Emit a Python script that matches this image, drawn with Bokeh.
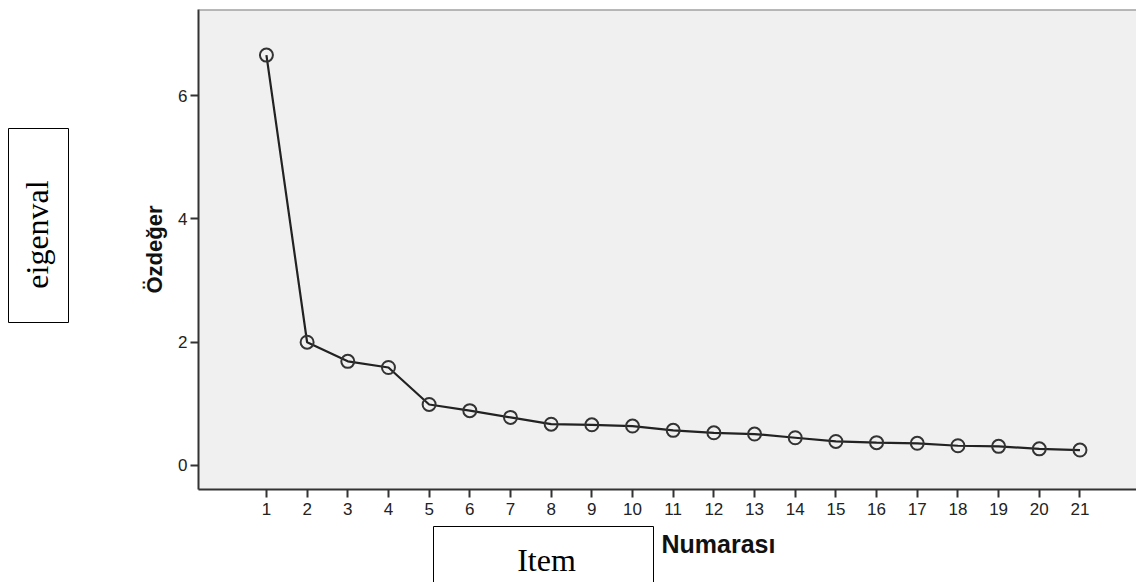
import math
from bokeh.plotting import figure
from bokeh.models import FixedTicker, Span, Range1d
from bokeh.core.properties import value
from bokeh.embed import file_html
from bokeh.resources import INLINE

# ---- data ----
components = list(range(1, 22))
eigenvalues = [6.66, 2.00, 1.69, 1.59, 0.99, 0.89, 0.78, 0.67, 0.66, 0.64,
               0.57, 0.53, 0.51, 0.45, 0.39, 0.37, 0.36, 0.32, 0.31, 0.27, 0.25]
x_ticks = components
y_ticks = [0, 2, 4, 6]
y_title = "Özdeğer"
x_title = "Numarası"
box_left_text = "eigenval"
box_bottom_text = "Item"

# ---- layout ----
W, H = 1136, 582
FL, FT, FB = 198, 9, 93
XR = (-0.67, 22.39)
YR = (-0.39, 7.40)


def px_to_x(px):
    return XR[0] + (px - FL) * (XR[1] - XR[0]) / (W - FL)


def px_to_y(py):
    return YR[1] - (py - FT) * (YR[1] - YR[0]) / (H - FT - FB)


p = figure(width=W, height=H, x_range=Range1d(*XR), y_range=Range1d(*YR),
           output_backend="svg", toolbar_location=None,
           min_border_left=FL, min_border_right=0, min_border_top=FT,
           min_border_bottom=FB)
p.background_fill_color = "#f0f0f0"
p.border_fill_color = "white"
p.outline_line_color = None
p.grid.visible = False

# top frame line
p.add_layout(Span(location=YR[1], dimension="width", line_color="#7a7a7a", line_width=2))

for ax in (p.xaxis[0], p.yaxis[0]):
    ax.axis_line_color = "#333333"
    ax.axis_line_width = 2
    ax.major_tick_line_color = "#333333"
    ax.major_tick_line_width = 2
    ax.major_tick_out = 8
    ax.major_tick_in = 0
    ax.minor_tick_line_color = None
    ax.major_label_text_font = "Liberation Sans"
    ax.major_label_text_font_size = "17px"
    ax.major_label_text_color = "#222222"

p.xaxis.ticker = FixedTicker(ticks=x_ticks)
p.yaxis.ticker = FixedTicker(ticks=y_ticks)
p.xaxis.major_label_standoff = 5
p.yaxis.major_label_standoff = 3

p.yaxis.axis_label = y_title
p.yaxis.axis_label_text_font = "Liberation Sans"
p.yaxis.axis_label_text_font_style = "bold"
p.yaxis.axis_label_text_font_size = "22px"
p.yaxis.axis_label_text_color = "#111111"
p.yaxis.axis_label_standoff = 8

# data
p.line(components, eigenvalues, line_color="#222222", line_width=2.2)
p.scatter(components, eigenvalues, marker="circle", size=13, fill_color=None,
          line_color="#333333", line_width=2)

# x title (outside frame -> overlay-level glyph, not clipped)
p.text(x=[px_to_x(661)], y=[px_to_y(543)], text=[x_title],
       text_font=value("Liberation Sans"), text_font_style="bold",
       text_font_size="25px", text_color="#111111",
       text_align="left", text_baseline="middle", level="overlay")

# overlay boxes
p.quad(left=[px_to_x(8), px_to_x(433)], right=[px_to_x(68), px_to_x(653)],
       top=[px_to_y(128), px_to_y(526)], bottom=[px_to_y(322), px_to_y(600)],
       fill_color="white", line_color="black", line_width=1, level="overlay")
p.text(x=[px_to_x(36)], y=[px_to_y(234)], text=[box_left_text],
       angle=math.pi / 2, text_font=value("Liberation Serif"),
       text_font_size="32px", text_color="black",
       text_align="center", text_baseline="middle", level="overlay")
p.text(x=[px_to_x(546)], y=[px_to_y(559)], text=[box_bottom_text],
       text_font=value("Liberation Serif"),
       text_font_size="32px", text_color="black",
       text_align="center", text_baseline="middle", level="overlay")

open("out.html", "w").write(file_html(p, INLINE))
